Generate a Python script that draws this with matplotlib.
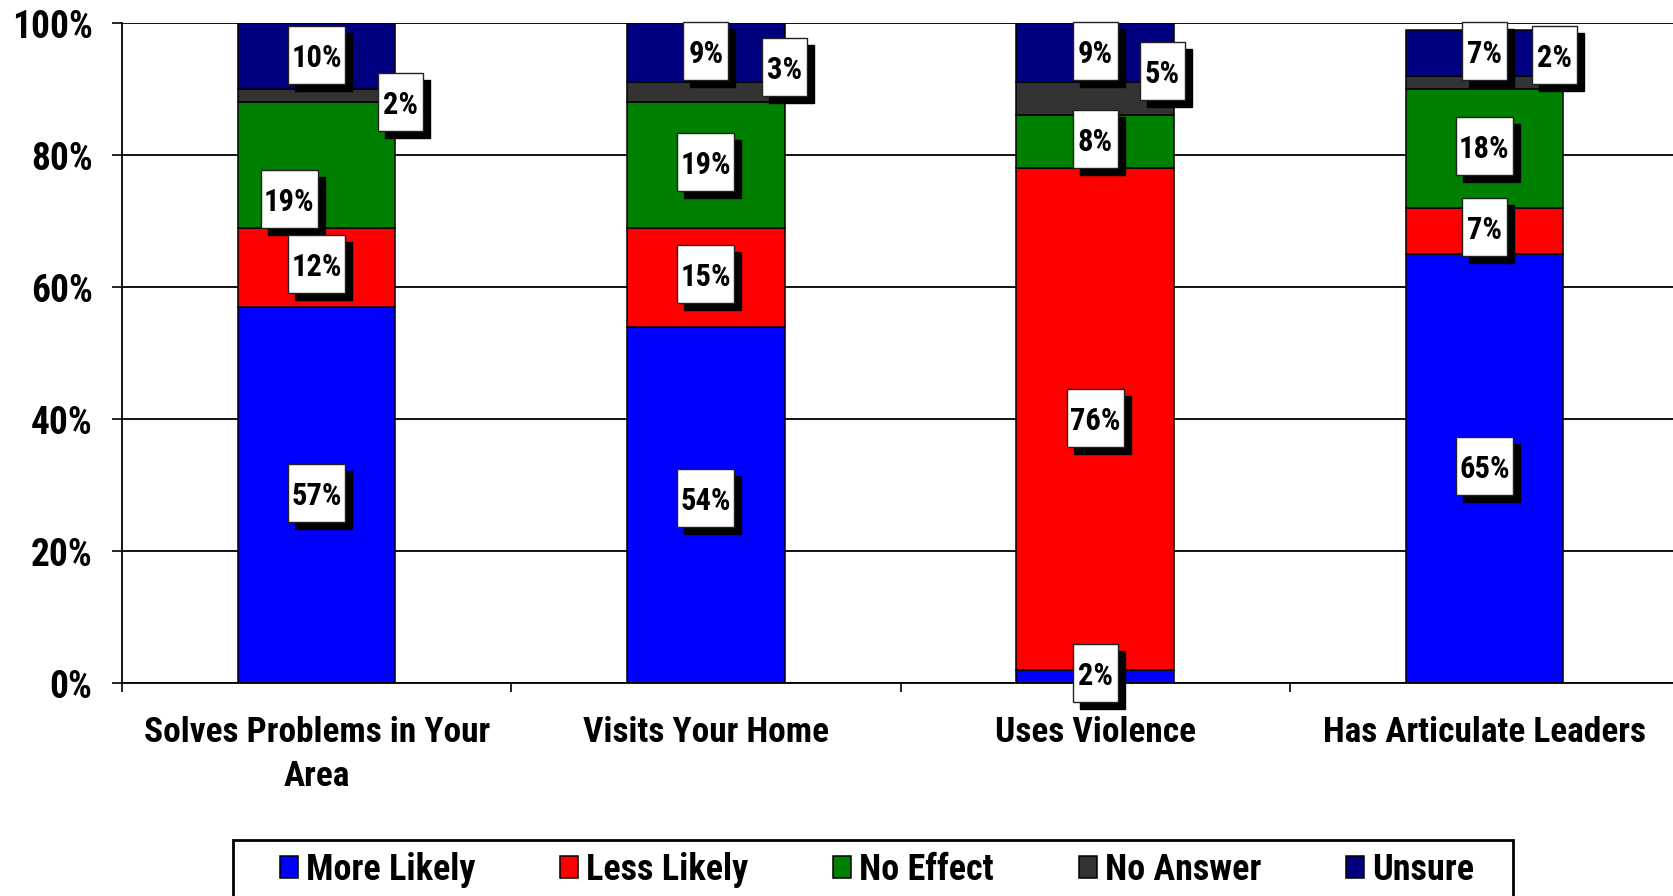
import matplotlib
matplotlib.use("Agg")
import matplotlib.pyplot as plt
from matplotlib.patches import Rectangle, Patch
from matplotlib.transforms import Affine2D, ScaledTranslation
import numpy as np

# ---------------- data ----------------
categories = ["Solves Problems in Your\nArea", "Visits Your Home", "Uses Violence", "Has Articulate Leaders"]
series_names = ["More Likely", "Less Likely", "No Effect", "No Answer", "Unsure"]
more_likely = [57, 54, 2, 65]
less_likely = [12, 15, 76, 7]
no_effect = [19, 19, 8, 18]
no_answer = [2, 3, 5, 2]
unsure = [10, 9, 9, 7]
y_ticks = [0, 20, 40, 60, 80, 100]
y_tick_labels = ["0%", "20%", "40%", "60%", "80%", "100%"]

# ---------------- style / layout ----------------
colors = ["#0000FF", "#FF0000", "#008000", "#333333", "#000080"]
FONT = ["Roboto Condensed", "Liberation Sans", "DejaVu Sans"]
# label offsets from segment centre: (dx in category units, dy in percent points)
label_dx = [[0, 0, -0.07, 0.215, 0],
            [0, 0, 0, 0.203, 0],
            [0, 0, 0, 0.172, 0],
            [0, 0, 0, 0.18, 0]]
label_dy = [[0.3, 0.5, -5.1, -1.0, 0.2],
            [1.0, 0.5, 0.4, 3.8, 0.3],
            [0.5, 0.2, 0.4, 4.2, 0.3],
            [0.4, 0.6, 0.3, 4.2, 0.3]]

plt.rcParams['font.family'] = FONT
plt.rcParams['font.weight'] = 'bold'

W, H, DPI = 1673, 896, 100
fig = plt.figure(figsize=(W / DPI, H / DPI), dpi=DPI)
ax = fig.add_axes([122 / W, 1 - 683 / H, (1679 - 122) / W, (683 - 23) / H])

series = [more_likely, less_likely, no_effect, no_answer, unsure]
x = np.arange(len(categories))
bar_w = 0.404
bottom = np.zeros(len(categories))
for vals, col, name in zip(series, colors, series_names):
    ax.bar(x, vals, bar_w, bottom=bottom, color=col, edgecolor="black",
           linewidth=1.1, zorder=3, label=name)
    bottom = bottom + np.array(vals)

# value label boxes
box_h = 58
for ci in range(len(categories)):
    base = 0
    for si, vals in enumerate(series):
        v = vals[ci]
        cx = x[ci] + label_dx[ci][si]
        cy = base + v / 2 + label_dy[ci][si]
        base += v
        txt = f"{v}%"
        bw = 12 * len(txt) + 21
        for off, fc, z in [((7, -7), "black", 5), ((0, 0), "white", 6)]:
            tr = (Affine2D().translate(-bw / 2 + off[0], -box_h / 2 + off[1])
                  + ScaledTranslation(cx, cy, ax.transData))
            r = Rectangle((0, 0), bw, box_h, facecolor=fc,
                          edgecolor="#222222" if fc == "white" else "black",
                          linewidth=1.0, transform=tr, zorder=z, clip_on=False)
            ax.add_patch(r)
        ax.text(cx, cy, txt, ha="center", va="center_baseline", fontsize=22,
                fontweight="bold", zorder=7, clip_on=False)

# axes styling
ax.set_xlim(-0.5, 3.5)
ax.set_ylim(0, 100)
ax.set_yticks(y_ticks)
ax.set_yticklabels(y_tick_labels, fontsize=27, fontweight="bold")
for yv in y_ticks:
    ax.axhline(yv, color="black", linewidth=1.3, zorder=2)
ax.spines["top"].set_visible(False)
ax.spines["right"].set_visible(False)
ax.spines["left"].set_linewidth(1.3)
ax.spines["bottom"].set_linewidth(1.3)
ax.spines["bottom"].set_zorder(4)
ax.tick_params(axis="y", length=7.2, width=1.2, pad=14, colors="black")

ax.set_xticks(np.arange(-0.5, 4.0, 1.0))
ax.set_xticklabels([])
ax.tick_params(axis="x", which="major", length=6.5, width=1.2)
ax.set_xticks(x, minor=True)
ax.set_xticklabels(categories, minor=True, fontsize=25.5, fontweight="bold",
                   linespacing=1.4)
ax.tick_params(axis="x", which="minor", length=0, pad=24)

# legend
handles = [Patch(facecolor=c, edgecolor="black", linewidth=1.1) for c in colors]
leg = fig.legend(handles, series_names, loc="center", ncol=5,
                 bbox_to_anchor=(877 / W, 1 - 870 / H), frameon=False,
                 prop={"size": 26, "weight": "bold"},
                 handlelength=0.5, handleheight=0.58, handletextpad=0.22,
                 columnspacing=2.35, borderpad=0, borderaxespad=0)
fig.add_artist(Rectangle((233 / W, 1 - 905 / H), (1513 - 233) / W, 65 / H,
                         transform=fig.transFigure, facecolor="none",
                         edgecolor="black", linewidth=2.0))

fig.savefig("out.png", dpi=DPI)
